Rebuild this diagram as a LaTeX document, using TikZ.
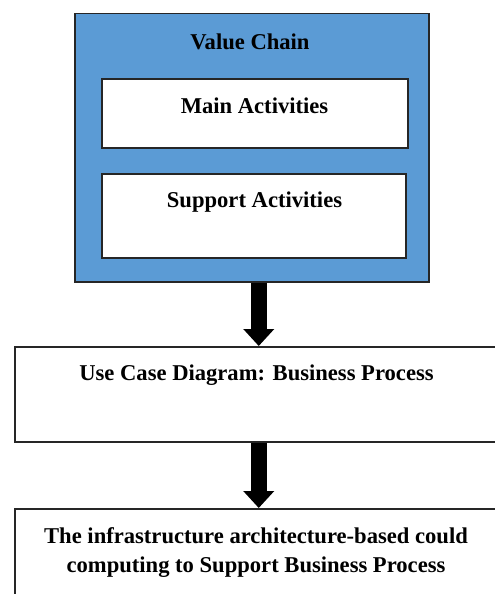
\documentclass[tikz,border=0pt]{standalone}
\usepackage{fontspec}
\setmainfont{Liberation Serif}
\usepackage{tikz}
\usetikzlibrary{arrows.meta}
\usetikzlibrary{positioning}
\definecolor{chainblue}{RGB}{91,155,213}

\begin{document}
\begin{tikzpicture}[x=1pt,y=-1pt,
  box/.style={draw=black!85,line width=1.5pt,rectangle,inner sep=0pt,anchor=north west},
  lbl/.style={font=\fontsize{22.6}{29}\selectfont\bfseries,anchor=base,align=center,inner sep=0pt},
  bigarrow/.style={line width=16pt,-{Triangle[width=30pt,length=17pt]}},
]
  \useasboundingbox (0,0) rectangle (495,594);
  \clip (0,0) rectangle (495,594);

  % value chain block
  \node[box,fill=chainblue,minimum width=354pt,minimum height=268pt] (chain) at (74,13) {};
  \node[box,fill=white,minimum width=306pt,minimum height=69pt] (main) at (101,78) {};
  \node[box,fill=white,minimum width=304pt,minimum height=84pt] (support) at (101,173) {};

  \node[lbl] (chaintxt) at (250,49) {Value Chain};
  \node[lbl] (maintxt) at (254.5,113) {Main Activities};
  \node[lbl] (supporttxt) at (254.5,207) {Support Activities};

  % lower boxes
  \node[box,fill=white,minimum width=500pt,minimum height=95pt] (usecase) at (14,346) {};
  \node[box,fill=white,minimum width=500pt,minimum height=120pt] (infra) at (14,508) {};

  \node[lbl] (usecasetxt) at (256.5,380) {Use Case Diagram: Business Process};
  \node[lbl] (infratxt) at (256,572) {The infrastructure architecture-based could\\computing to Support Business Process};

  \coordinate (axis) at ([xshift=7pt]chain.south);
  \draw[bigarrow] (axis) -- (axis |- usecase.north);
  \draw[bigarrow] (axis |- usecase.south) -- (axis |- infra.north);
\end{tikzpicture}
\end{document}
